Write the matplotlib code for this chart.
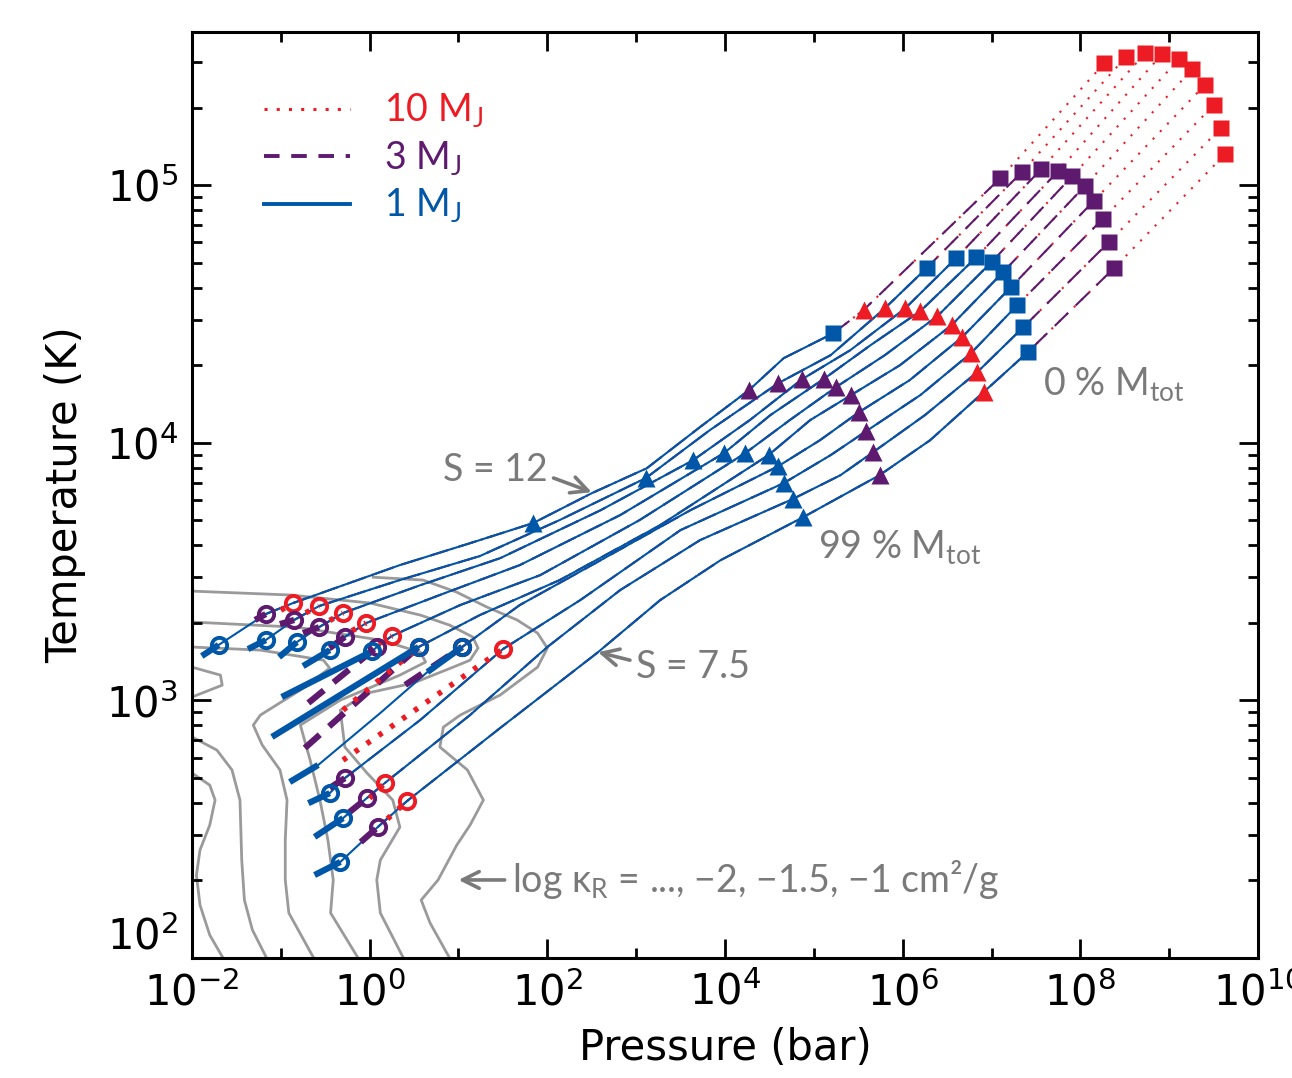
import numpy as np
import matplotlib.pyplot as plt
from matplotlib.lines import Line2D
from matplotlib.ticker import FixedLocator, LogLocator, NullFormatter

plt.rcParams['font.family'] = ['DejaVu Sans']
plt.rcParams['mathtext.fontset'] = 'custom'
plt.rcParams['mathtext.rm'] = 'Lato'

RED = '#ed1c24'
PURPLE = '#5e1a6e'
BLUE = '#0057a8'
CGRAY = '#9a9a9a'
TGRAY = '#7a7a7a'

# ten adiabats, S = 12 (first) ... 7.5 (last); nodes in log10 P [bar], log10 T [K]
adiabat_logP = [
    [-1.70, -1.17, -0.86, 0.34, 1.13, 1.84, 2.50, 3.12, 3.72, 4.27, 4.66, 5.22, 5.56, 7.10, 8.27],
    [-1.17, -0.85, -0.57, 0.34, 1.24, 2.14, 3.11, 3.83, 4.60, 5.19, 5.80, 6.27, 7.34, 8.51],
    [-0.82, -0.57, -0.30, 0.57, 1.47, 2.60, 3.64, 4.28, 4.87, 5.41, 6.03, 6.60, 7.56, 8.73],
    [-0.45, -0.28, -0.04, 0.79, 1.69, 2.82, 3.99, 4.51, 5.11, 5.64, 6.20, 6.83, 7.75, 8.92],
    [0.03, 0.08, 0.25, 1.02, 1.92, 3.04, 4.23, 4.73, 5.25, 5.80, 6.39, 7.00, 7.91, 9.11],
    [0.55, 1.24, 2.14, 3.27, 4.49, 4.96, 5.42, 5.97, 6.55, 7.13, 8.05, 9.26],
    [-0.58, 0.12, 0.65, 1.04, 1.69, 2.60, 3.61, 4.60, 5.07, 5.51, 6.08, 6.67, 7.22, 8.15, 9.40],
    [-0.45, -0.28, 0.57, 1.50, 2.37, 3.50, 4.66, 5.19, 5.59, 6.20, 6.77, 7.29, 8.25, 9.50],
    [-0.30, -0.03, 0.17, 1.13, 2.00, 2.82, 3.72, 4.76, 5.30, 5.67, 6.25, 6.84, 7.36, 8.32, 9.58],
    [-0.33, 0.09, 0.42, 1.47, 2.56, 3.27, 3.95, 4.88, 5.74, 6.31, 6.91, 7.41, 8.38, 9.63],
]
adiabat_logT = [
    [3.215, 3.335, 3.378, 3.525, 3.610, 3.688, 3.804, 3.901, 4.061, 4.204, 4.328, 4.425, 4.515, 5.027, 5.473],
    [3.234, 3.312, 3.366, 3.467, 3.560, 3.700, 3.863, 4.049, 4.231, 4.340, 4.522, 4.678, 5.050, 5.496],
    [3.226, 3.284, 3.339, 3.447, 3.552, 3.738, 3.932, 4.088, 4.247, 4.359, 4.522, 4.716, 5.062, 5.512],
    [3.195, 3.246, 3.300, 3.409, 3.525, 3.719, 3.960, 4.107, 4.247, 4.379, 4.511, 4.720, 5.054, 5.508],
    [3.191, 3.207, 3.250, 3.370, 3.486, 3.700, 3.960, 4.088, 4.216, 4.340, 4.491, 4.701, 5.035, 5.489],
    [3.207, 3.331, 3.467, 3.680, 3.952, 4.088, 4.185, 4.301, 4.456, 4.662, 4.996, 5.450],
    [2.749, 2.951, 3.110, 3.207, 3.370, 3.544, 3.738, 3.909, 4.010, 4.119, 4.243, 4.410, 4.604, 4.938, 5.388],
    [2.640, 2.698, 2.924, 3.199, 3.389, 3.661, 3.843, 3.952, 4.045, 4.185, 4.348, 4.534, 4.868, 5.310],
    [2.543, 2.621, 2.679, 2.943, 3.207, 3.428, 3.622, 3.781, 3.874, 3.964, 4.107, 4.274, 4.449, 4.778, 5.221],
    [2.373, 2.508, 2.609, 2.893, 3.184, 3.389, 3.544, 3.711, 3.874, 4.010, 4.196, 4.352, 4.678, 5.120],
]

# radiative-convective boundaries (open circles)
rcb_1mj_logP = [-1.70, -1.17, -0.82, -0.45, 0.03, 0.55, 1.04, -0.45, -0.30, -0.33]
rcb_1mj_logT = [3.215, 3.234, 3.226, 3.195, 3.191, 3.207, 3.207, 2.640, 2.543, 2.373]
rcb_3mj_logP = [-1.17, -0.85, -0.57, -0.28, 0.08, 0.55, 1.04, -0.28, -0.03, 0.09]
rcb_3mj_logT = [3.335, 3.312, 3.284, 3.246, 3.207, 3.207, 3.207, 2.698, 2.621, 2.508]
rcb_10mj_logP = [-0.86, -0.57, -0.30, -0.04, 0.25, 0.55, 1.04, 1.50, 0.17, 0.42]
rcb_10mj_logT = [3.378, 3.366, 3.339, 3.300, 3.250, 3.207, 3.207, 3.199, 2.679, 2.609]
# start of the convective (thin) part of each 1 MJ profile
conv_1mj_logP = [-1.70, -1.17, -0.82, -0.45, 0.03, 0.55, -0.58, -0.45, -0.30, -0.33]

# 99 % M_tot (triangles)
m99_1mj_logP = [1.84, 3.11, 3.64, 3.99, 4.23, 4.49, 4.60, 4.66, 4.76, 4.88]
m99_1mj_logT = [3.688, 3.863, 3.932, 3.960, 3.960, 3.952, 3.909, 3.843, 3.781, 3.711]
m99_3mj_logP = [4.27, 4.60, 4.87, 5.11, 5.25, 5.42, 5.51, 5.59, 5.67, 5.74]
m99_3mj_logT = [4.204, 4.231, 4.247, 4.247, 4.216, 4.185, 4.119, 4.045, 3.964, 3.874]
m99_10mj_logP = [5.56, 5.80, 6.03, 6.20, 6.39, 6.55, 6.67, 6.77, 6.84, 6.91]
m99_10mj_logT = [4.515, 4.522, 4.522, 4.511, 4.491, 4.456, 4.410, 4.348, 4.274, 4.196]

# centre, 0 % M_tot (squares)
c_1mj_logP = [5.22, 6.27, 6.60, 6.83, 7.00, 7.13, 7.22, 7.29, 7.36, 7.41]
c_1mj_logT = [4.425, 4.678, 4.716, 4.720, 4.701, 4.662, 4.604, 4.534, 4.449, 4.352]
c_3mj_logP = [7.10, 7.34, 7.56, 7.75, 7.91, 8.05, 8.15, 8.25, 8.32, 8.38]
c_3mj_logT = [5.027, 5.050, 5.062, 5.054, 5.035, 4.996, 4.938, 4.868, 4.778, 4.678]
c_10mj_logP = [8.27, 8.51, 8.73, 8.92, 9.11, 9.26, 9.40, 9.50, 9.58, 9.63]
c_10mj_logT = [5.473, 5.496, 5.512, 5.508, 5.489, 5.450, 5.388, 5.310, 5.221, 5.120]

# radiative zones (thick): (logP0, logT0, logP1, logT1)
rad_1mj = [(-1.89, 3.172, -1.70, 3.215), (-1.37, 3.199, -1.17, 3.234), (-1.02, 3.168, -0.82, 3.226),
           (-0.75, 3.133, -0.45, 3.195), (-0.99, 3.013, 0.03, 3.191), (-1.10, 2.858, 0.55, 3.207),
           (-0.90, 2.683, -0.58, 2.749), (0.65, 3.110, 1.04, 3.207), (-0.69, 2.601, -0.45, 2.640),
           (-0.62, 2.470, -0.30, 2.543), (-0.62, 2.322, -0.33, 2.373)]
rad_3mj = [(-1.29, 3.312, -1.17, 3.335), (-1.01, 3.296, -0.85, 3.312), (-0.75, 3.261, -0.57, 3.284),
           (-0.45, 3.203, -0.28, 3.246), (-0.69, 2.990, 0.08, 3.207), (-0.73, 2.815, 0.55, 3.207),
           (0.40, 3.060, 1.04, 3.207), (-0.45, 2.660, -0.28, 2.698), (-0.25, 2.560, -0.03, 2.621),
           (-0.10, 2.450, 0.09, 2.508)]
rad_10mj = [(-1.00, 3.350, -0.86, 3.378), (-0.72, 3.340, -0.57, 3.366), (-0.45, 3.310, -0.30, 3.339),
            (-0.20, 3.270, -0.04, 3.300), (0.10, 3.220, 0.25, 3.250), (-0.30, 2.962, 0.55, 3.207),
            (-0.30, 2.768, 1.50, 3.199), (0.00, 2.620, 0.17, 2.679), (0.20, 2.540, 0.42, 2.609)]

# Rosseland-opacity contours (log kappa_R)
kappa_logP = [
    [-2.00, -1.80, -1.74, -1.80, -1.91, -1.95, -1.91, -1.80, -1.65],
    [-2.00, -1.68, -1.66, -2.00],
    [-2.00, -1.72, -1.55, -1.46, -1.44, -1.41, -1.32, -1.16],
    [-2.00, -1.23, -0.52, -0.45, -0.78, -1.23, -1.31, -1.21, -1.01, -0.93, -0.95, -0.95, -0.91, -0.63],
    [-2.00, -0.82, 0.12, 0.57, 0.63, 0.34, -0.33, -0.78, -0.67, -0.56, -0.47, -0.41, -0.44, -0.13],
    [-2.00, -0.90, 0.00, 0.57, 0.90, 1.16, 1.22, 1.13, 0.94, 0.49, -0.03, -0.33, -0.28, -0.03, 0.26,
     0.34, 0.12, 0.08, 0.12, 0.38],
    [0.04, 0.60, 0.98, 1.32, 1.66, 1.89, 2.00, 1.89, 1.47, 1.02, 0.83, 0.79, 1.10, 1.28, 1.13,
     0.98, 0.77, 0.58, 0.68, 0.90],
]
kappa_logT = [
    [2.718, 2.671, 2.613, 2.516, 2.419, 2.322, 2.206, 2.089, 2.000],
    [3.129, 3.098, 3.059, 3.013],
    [2.858, 2.807, 2.730, 2.613, 2.380, 2.225, 2.109, 2.000],
    [3.207, 3.195, 3.156, 3.125, 3.040, 2.943, 2.904, 2.827, 2.730, 2.613, 2.458, 2.303, 2.175, 2.000],
    [3.304, 3.284, 3.234, 3.187, 3.149, 3.098, 3.001, 2.904, 2.768, 2.613, 2.458, 2.303, 2.175, 2.000],
    [3.424, 3.409, 3.378, 3.331, 3.292, 3.246, 3.203, 3.156, 3.129, 3.067, 3.028, 2.962, 2.819, 2.718,
     2.613, 2.508, 2.380, 2.303, 2.175, 2.000],
    [3.478, 3.467, 3.420, 3.362, 3.312, 3.261, 3.203, 3.129, 3.021, 2.943, 2.896, 2.819, 2.730,
     2.613, 2.516, 2.438, 2.303, 2.225, 2.136, 2.000],
]


def piece(k, p0, p1):
    P = np.array(adiabat_logP[k])
    T = np.array(adiabat_logT[k])
    keep = (P >= p0 - 1e-6) & (P <= p1 + 1e-6)
    return 10 ** P[keep], 10 ** T[keep]


fig = plt.figure(figsize=(12.92, 10.78), dpi=100)
ax = fig.add_axes([0.1486, 0.1113, 0.8251, 0.8590])
ax.set_xscale('log')
ax.set_yscale('log')

for lp, lt in zip(kappa_logP, kappa_logT):
    ax.plot(10 ** np.array(lp), 10 ** np.array(lt), color=CGRAY, lw=2.0, zorder=1)

thin = 1.5
for k in range(10):
    x, y = piece(k, rcb_10mj_logP[k], c_10mj_logP[k])
    ax.plot(x, y, color=RED, lw=thin, ls=(0, (1, 4)), zorder=2)
    x, y = piece(k, rcb_3mj_logP[k], c_3mj_logP[k])
    ax.plot(x, y, color=PURPLE, lw=thin, ls=(0, (9, 5)), zorder=3)
    x, y = piece(k, conv_1mj_logP[k], c_1mj_logP[k])
    ax.plot(x, y, color=BLUE, lw=thin, zorder=4)

for p0, t0, p1, t1 in rad_3mj:
    ax.plot([10 ** p0, 10 ** p1], [10 ** t0, 10 ** t1], color=PURPLE, lw=4.5, ls=(0, (3.2, 2)), zorder=5)
for p0, t0, p1, t1 in rad_10mj:
    ax.plot([10 ** p0, 10 ** p1], [10 ** t0, 10 ** t1], color=RED, lw=4, ls=(0, (0.8, 1.8)), zorder=5.5)
for p0, t0, p1, t1 in rad_1mj:
    ax.plot([10 ** p0, 10 ** p1], [10 ** t0, 10 ** t1], color=BLUE, lw=4.5, solid_capstyle='butt', zorder=6)

ax.plot(10 ** np.array(rcb_10mj_logP), 10 ** np.array(rcb_10mj_logT), 'o', ms=11, mfc='none', mec=RED, mew=2.8, zorder=7)
ax.plot(10 ** np.array(rcb_3mj_logP), 10 ** np.array(rcb_3mj_logT), 'o', ms=11, mfc='none', mec=PURPLE, mew=2.8, zorder=8)
ax.plot(10 ** np.array(rcb_1mj_logP), 10 ** np.array(rcb_1mj_logT), 'o', ms=11, mfc='none', mec=BLUE, mew=2.8, zorder=9)

for lp, lt, c in [(m99_1mj_logP, m99_1mj_logT, BLUE), (m99_3mj_logP, m99_3mj_logT, PURPLE),
                  (m99_10mj_logP, m99_10mj_logT, RED)]:
    ax.plot(10 ** np.array(lp), 10 ** np.array(lt), '^', ms=13, color=c, mec='none', zorder=10)
for lp, lt, c in [(c_1mj_logP, c_1mj_logT, BLUE), (c_3mj_logP, c_3mj_logT, PURPLE),
                  (c_10mj_logP, c_10mj_logT, RED)]:
    ax.plot(10 ** np.array(lp), 10 ** np.array(lt), 's', ms=11, color=c, mec='none', zorder=10)

# annotations
afont = dict(family=['Lato', 'DejaVu Sans'], color=TGRAY, fontsize=27)
arrow = dict(arrowstyle='->', color=TGRAY, lw=2.6, mutation_scale=30, shrinkA=0, shrinkB=0)
ax.text(10 ** 1.41, 10 ** 3.894, 'S = 12', ha='center', va='center', **afont)
ax.annotate('', xy=(10 ** 2.50, 10 ** 3.808), xytext=(10 ** 2.07, 10 ** 3.863), arrowprops=arrow)
ax.text(10 ** 3.0, 10 ** 3.129, 'S = 7.5', ha='left', va='center', **afont)
ax.annotate('', xy=(10 ** 2.57, 10 ** 3.187), xytext=(10 ** 2.93, 10 ** 3.156), arrowprops=arrow)
ax.text(10 ** 7.58, 10 ** 4.224, '0 % M$_\\mathrm{tot}$', ha='left', va='center', **afont)
ax.text(10 ** 5.05, 10 ** 3.591, '99 % M$_\\mathrm{tot}$', ha='left', va='center', **afont)
ax.text(10 ** 1.60, 10 ** 2.303, 'log κ$_\\mathrm{R}$ = ..., −2, −1.5, −1 cm²/g', ha='left', va='center', **afont)
ax.annotate('', xy=(10 ** 1.0, 10 ** 2.303), xytext=(10 ** 1.52, 10 ** 2.303), arrowprops=arrow)

handles = [Line2D([], [], color=RED, lw=2.2, ls=(0, (1, 3))),
           Line2D([], [], color=PURPLE, lw=2.8, ls=(0, (4, 3))),
           Line2D([], [], color=BLUE, lw=2.8)]
leg = ax.legend(handles, ['10 M$_\\mathrm{J}$', '3 M$_\\mathrm{J}$', '1 M$_\\mathrm{J}$'],
                loc='upper left', bbox_to_anchor=(0.036, 0.972), frameon=False,
                handlelength=2.3, handletextpad=0.9, labelspacing=0.25,
                labelcolor=[RED, PURPLE, BLUE], prop=dict(family=['Lato', 'DejaVu Sans'], size=27))

ax.set_xlim(1e-2, 1e10)
ax.set_ylim(1e2, 10 ** 5.594)
ax.xaxis.set_major_locator(FixedLocator([10.0 ** e for e in range(-2, 11, 2)]))
ax.xaxis.set_minor_locator(FixedLocator([10.0 ** e for e in range(-1, 10, 2)]))
ax.xaxis.set_minor_formatter(NullFormatter())
ax.yaxis.set_major_locator(FixedLocator([1e2, 1e3, 1e4, 1e5]))
ax.yaxis.set_minor_locator(LogLocator(base=10, subs=np.arange(2, 10), numticks=10))
ax.yaxis.set_minor_formatter(NullFormatter())
ax.tick_params(which='both', direction='in', top=True, right=True, width=2.0, labelsize=30, pad=10)
ax.tick_params(which='major', length=14)
ax.tick_params(which='minor', length=7)
ax.yaxis.get_major_ticks()[0].label1.set_verticalalignment('bottom')
for s in ax.spines.values():
    s.set_linewidth(2.2)

ax.set_xlabel('Pressure (bar)', fontsize=30, labelpad=9)
ax.set_ylabel('Temperature (K)', fontsize=30, labelpad=14)

fig.savefig('out.png', dpi=100)
